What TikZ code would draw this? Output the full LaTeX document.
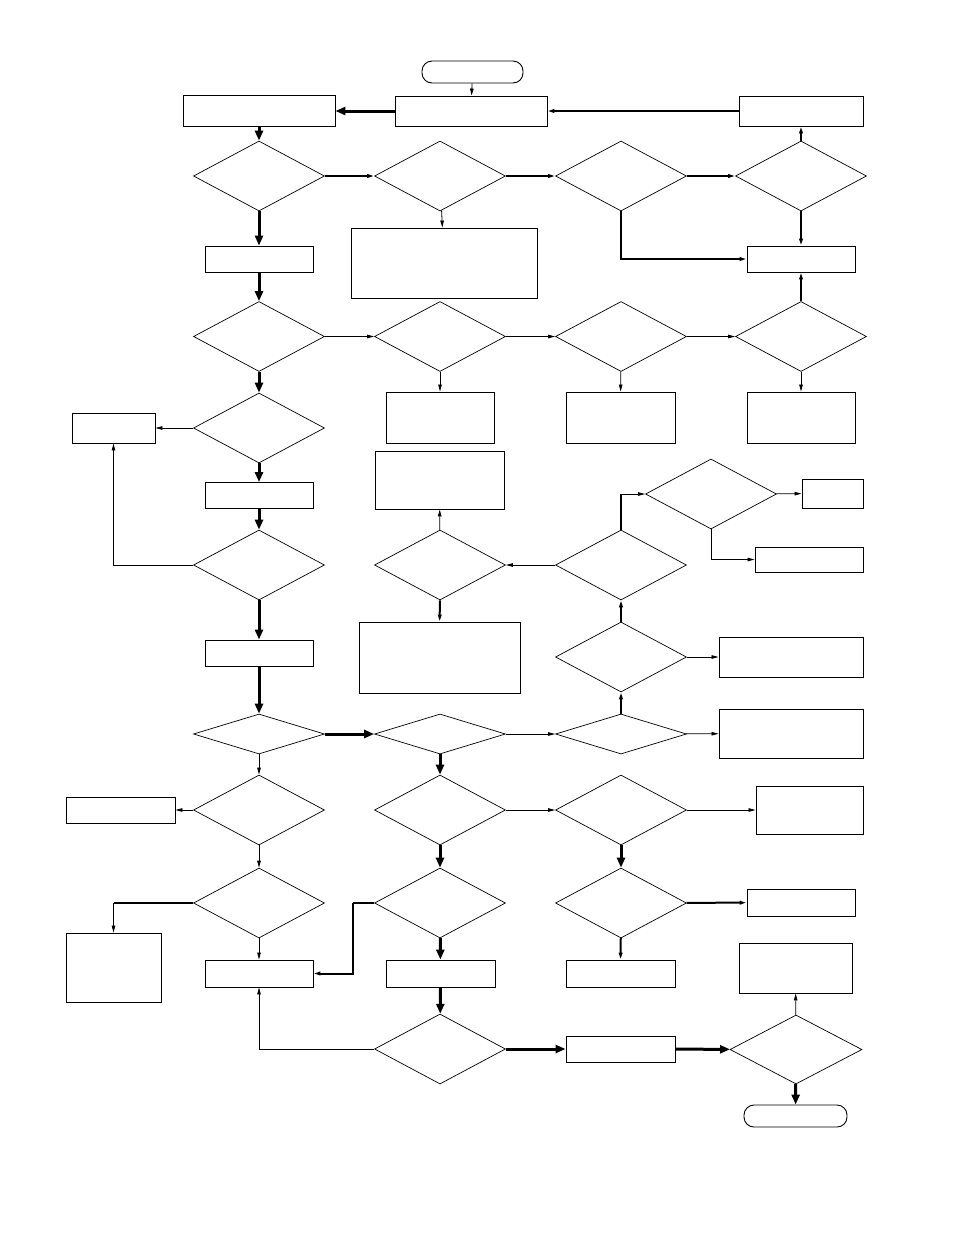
\documentclass[tikz,border=0pt]{standalone}
\usetikzlibrary{arrows.meta,shapes.geometric}
\begin{document}
\begin{tikzpicture}[x=1pt,y=-1pt,
  box/.style={draw,rectangle,line width=0.9pt,inner sep=0pt},
  term/.style={draw,rectangle,rounded corners=10pt,line width=0.9pt,inner sep=0pt},
  dia/.style={draw,diamond,line width=0.7pt,inner sep=0pt,minimum width=131pt,minimum height=70pt},
  flat/.style={draw,diamond,line width=0.7pt,inner sep=0pt,minimum width=131pt,minimum height=40pt},
  thin/.style={line width=0.8pt,-{Triangle[length=7pt,width=3.5pt]}},
  med/.style={line width=2pt,-{Triangle[length=7pt,width=3.5pt]}},
  big/.style={line width=3pt,-{Triangle[length=10pt,width=8pt]}},
  thinl/.style={line width=0.8pt},
  medl/.style={line width=2pt},
  bigl/.style={line width=3pt}]
\useasboundingbox (0,0) rectangle (954,1235);
% row 1
\node[term,minimum width=101pt,minimum height=22pt] (start) at (472.5,72) {};
\node[box,minimum width=152pt,minimum height=31pt] (A) at (259,111) {};
\node[box,minimum width=152pt,minimum height=30pt] (B) at (471,111) {};
\node[box,minimum width=124pt,minimum height=30pt] (C) at (801,111) {};
% row 2
\node[dia] (D1) at (259,176) {};
\node[dia] (D2) at (440,176) {};
\node[dia] (D3) at (621,176) {};
\node[dia] (D4) at (801,176) {};
\node[box,minimum width=108pt,minimum height=26pt] (E) at (801,259) {};
\node[box,minimum width=186pt,minimum height=70pt] (F) at (444,263) {};
\node[box,minimum width=108pt,minimum height=26pt] (G) at (259,259) {};
% row 3
\node[dia] (D5) at (259,336.5) {};
\node[dia] (D6) at (440,336.5) {};
\node[dia] (D7) at (621,336.5) {};
\node[dia] (D8) at (801,336.5) {};
\node[box,minimum width=108pt,minimum height=51pt] (H) at (440,417.5) {};
\node[box,minimum width=109pt,minimum height=51pt] (I) at (620.5,417.5) {};
\node[box,minimum width=108pt,minimum height=51pt] (J) at (801,417.5) {};
% left column middle
\node[dia] (D9) at (259,428) {};
\node[box,minimum width=83pt,minimum height=30pt] (K) at (113.5,428) {};
\node[box,minimum width=108pt,minimum height=26pt] (L) at (259,495.5) {};
\node[dia] (D10) at (259,565) {};
\node[box,minimum width=108pt,minimum height=26pt] (M) at (259,653) {};
% center/right middle
\node[box,minimum width=129pt,minimum height=58pt] (N) at (439.5,480) {};
\node[dia] (D11) at (440,565) {};
\node[box,minimum width=161pt,minimum height=71pt] (O) at (439.5,657.5) {};
\node[dia] (D12) at (621,565) {};
\node[dia] (D13) at (711,494) {};
\node[box,minimum width=61pt,minimum height=29pt] (P) at (832.5,493.5) {};
\node[box,minimum width=108pt,minimum height=25pt] (Q) at (809,559.5) {};
\node[dia] (D14) at (621,657) {};
\node[box,minimum width=144pt,minimum height=40pt] (R) at (791,657) {};
\node[flat] (D15) at (621,734) {};
\node[box,minimum width=144pt,minimum height=49pt] (S) at (791,733.5) {};
\node[flat] (D16) at (259,734) {};
\node[flat] (D17) at (440,734) {};
% lower rows
\node[dia] (D18) at (259,810) {};
\node[box,minimum width=109pt,minimum height=26pt] (T) at (120.5,810) {};
\node[dia] (D19) at (440,810) {};
\node[dia] (D23) at (621,810) {};
\node[box,minimum width=107pt,minimum height=48pt] (X) at (809.5,810) {};
\node[dia] (D20) at (259,903) {};
\node[dia] (D21) at (440,903) {};
\node[dia] (D24) at (621,903) {};
\node[box,minimum width=108pt,minimum height=27pt] (Y) at (801,902.5) {};
\node[box,minimum width=95pt,minimum height=69pt] (U) at (113.5,967.5) {};
\node[box,minimum width=108pt,minimum height=27pt] (V) at (259,973.5) {};
\node[box,minimum width=109pt,minimum height=27pt] (W) at (440.5,973.5) {};
\node[box,minimum width=109pt,minimum height=27pt] (Z) at (620.5,973.5) {};
\node[box,minimum width=113pt,minimum height=50pt] (AB) at (795.5,968) {};
\node[dia] (D22) at (440,1049) {};
\node[box,minimum width=109pt,minimum height=26pt] (AA) at (620.5,1049) {};
\node[draw,diamond,line width=0.7pt,inner sep=0pt,minimum width=132pt,minimum height=69pt] (D25) at (796,1049.5) {};
\node[term,minimum width=103pt,minimum height=22pt] (end) at (795.5,1116) {};
% connectors
\draw[thin] (start) -- (B);
\draw[big] (B) -- (A);
\draw[med] (C) -- (B);
\draw[big] (A) -- (D1);
\draw[med] (D1) -- (D2);
\draw[med] (D2) -- (D3);
\draw[med] (D3) -- (D4);
\draw[med] (D4) -- (C);
\draw[thin] (D2) -- (F);
\draw[med] (D3.south) |- (E.west);
\draw[med] (D4) -- (E);
\draw[big] (D1) -- (G);
\draw[big] (G) -- (D5);
\draw[thin] (D5) -- (D6);
\draw[thin] (D6) -- (D7);
\draw[thin] (D7) -- (D8);
\draw[med] (D8) -- (E);
\draw[big] (D5) -- (D9);
\draw[thin] (D6) -- (H);
\draw[thin] (D7) -- (I);
\draw[thin] (D8) -- (J);
\draw[thin] (D9) -- (K);
\draw[big] (D9) -- (L);
\draw[big] (L) -- (D10);
\draw[thin] (D10.west) -| (K.south);
\draw[big] (D10) -- (M);
\draw[big] (M) -- (D16);
\draw[thin] (D11) -- (N);
\draw[med] (D11) -- (O);
\draw[thin] (D12) -- (D11);
\coordinate (c1) at (D12.north |- D13.west);
\draw[medl] (D12.north) -- (c1);
\draw[thin] (c1) -- (D13.west);
\draw[thin] (D13) -- (P);
\draw[thin] (D13.south) |- (Q.west);
\draw[med] (D14) -- (D12);
\draw[thin] (D14) -- (R);
\draw[med] (D15) -- (D14);
\draw[thin] (D15) -- (S);
\draw[big] (D16) -- (D17);
\draw[thin] (D17) -- (D15);
\draw[big] (D17) -- (D19);
\draw[thin] (D16) -- (D18);
\draw[thin] (D18) -- (T);
\draw[thin] (D18) -- (D20);
\coordinate (c2) at (U.north |- D20.west);
\draw[medl] (D20.west) -- (c2);
\draw[thin] (c2) -- (U.north);
\draw[thin] (D20) -- (V);
\draw[big] (D19) -- (D21);
\coordinate (c3) at (353,903);
\draw[medl] (D21.west) -- (c3);
\draw[med] (c3) |- (V.east);
\draw[big] (D21) -- (W);
\draw[big] (W) -- (D22);
\draw[thin] (D19) -- (D23);
\draw[thin] (D23) -- (X);
\draw[big] (D23) -- (D24);
\draw[med] (D24) -- (Y);
\draw[med] (D24) -- (Z);
\draw[big] (D22) -- (AA);
\draw[big] (AA) -- (D25);
\draw[thin] (D25) -- (AB);
\draw[big] (D25) -- (end);
\draw[thin] (D22.west) -| (V.south);
\end{tikzpicture}
\end{document}
